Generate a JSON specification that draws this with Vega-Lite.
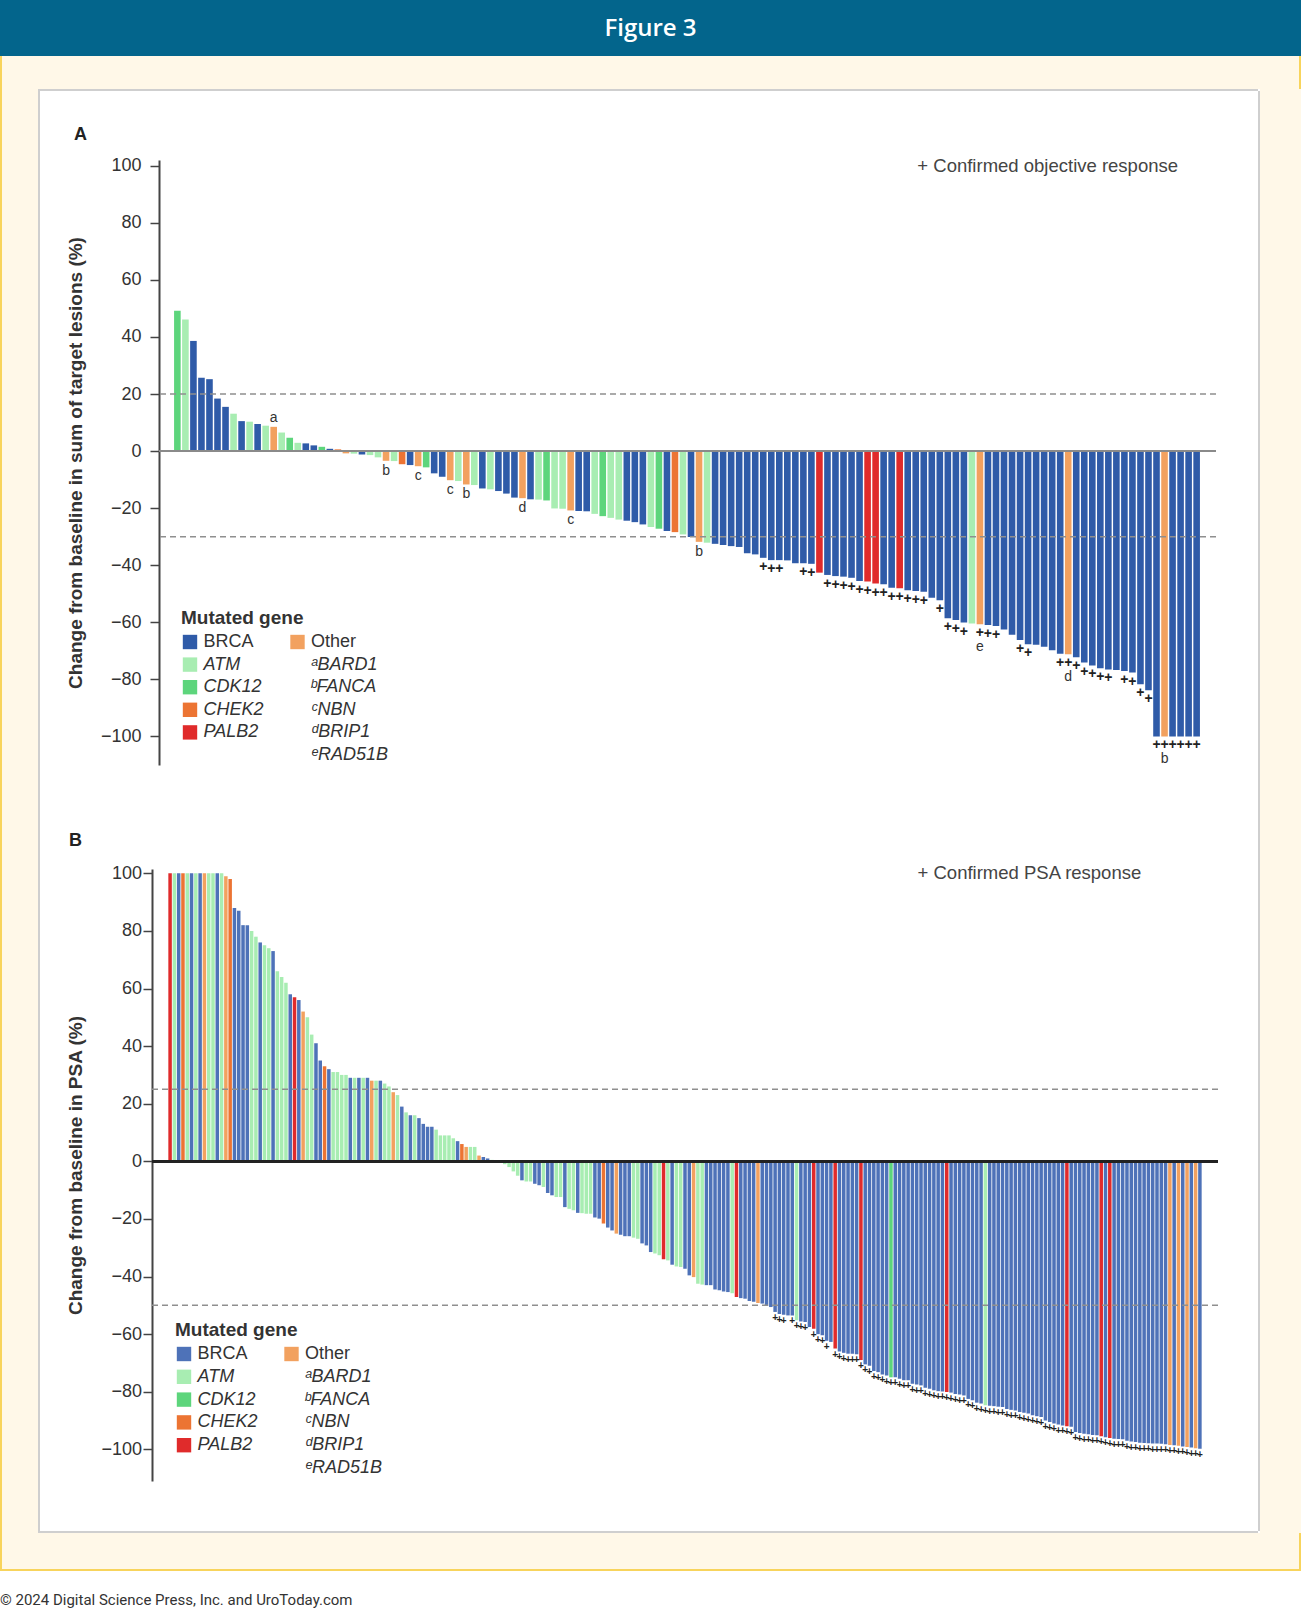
{
"$schema": "https://vega.github.io/schema/vega-lite/v6.json",
"padding": 0,
"background": "white",
"spacing": 0,
"config": {"view": {"stroke": null}, "font": "Liberation Sans", "concat": {"spacing": 0}},
"title": {"text": "© 2024 Digital Science Press, Inc. and UroToday.com", "orient": "bottom", "anchor": "start", "offset": 22, "fontSize": 15, "font": "Roboto", "fontWeight": "normal", "color": "#333"},
"datasets": {
"A": [{"i":1,"v":49.2,"g":"CDK12"},{"i":2,"v":46.1,"g":"ATM"},{"i":3,"v":38.6,"g":"BRCA"},{"i":4,"v":25.7,"g":"BRCA"},{"i":5,"v":25.2,"g":"BRCA"},{"i":6,"v":18.4,"g":"BRCA"},{"i":7,"v":15.5,"g":"BRCA"},{"i":8,"v":13.1,"g":"ATM"},{"i":9,"v":10.5,"g":"BRCA"},{"i":10,"v":10.3,"g":"ATM"},{"i":11,"v":9.5,"g":"BRCA"},{"i":12,"v":8.9,"g":"ATM"},{"i":13,"v":8.5,"g":"Other","n":"a"},{"i":14,"v":6.5,"g":"ATM"},{"i":15,"v":4.7,"g":"CDK12"},{"i":16,"v":2.9,"g":"ATM"},{"i":17,"v":2.7,"g":"BRCA"},{"i":18,"v":2.0,"g":"BRCA"},{"i":19,"v":1.5,"g":"CDK12"},{"i":20,"v":0.8,"g":"BRCA"},{"i":21,"v":0.6,"g":"CHEK2"},{"i":22,"v":-0.8,"g":"Other"},{"i":23,"v":-0.9,"g":"ATM"},{"i":24,"v":-1.2,"g":"BRCA"},{"i":25,"v":-1.4,"g":"ATM"},{"i":26,"v":-2.2,"g":"ATM"},{"i":27,"v":-3.4,"g":"Other","n":"b"},{"i":28,"v":-3.5,"g":"ATM"},{"i":29,"v":-4.6,"g":"CHEK2"},{"i":30,"v":-4.9,"g":"BRCA"},{"i":31,"v":-5.3,"g":"Other","n":"c"},{"i":32,"v":-5.7,"g":"CDK12"},{"i":33,"v":-7.8,"g":"BRCA"},{"i":34,"v":-9.0,"g":"BRCA"},{"i":35,"v":-10.2,"g":"Other","n":"c"},{"i":36,"v":-10.5,"g":"ATM"},{"i":37,"v":-11.7,"g":"Other","n":"b"},{"i":38,"v":-11.9,"g":"ATM"},{"i":39,"v":-13.1,"g":"BRCA"},{"i":40,"v":-13.4,"g":"ATM"},{"i":41,"v":-14.0,"g":"BRCA"},{"i":42,"v":-14.9,"g":"BRCA"},{"i":43,"v":-16.3,"g":"BRCA"},{"i":44,"v":-16.5,"g":"Other","n":"d"},{"i":45,"v":-16.9,"g":"BRCA"},{"i":46,"v":-17.0,"g":"ATM"},{"i":47,"v":-17.3,"g":"CDK12"},{"i":48,"v":-20.1,"g":"ATM"},{"i":49,"v":-20.2,"g":"ATM"},{"i":50,"v":-20.8,"g":"Other","n":"c"},{"i":51,"v":-21.0,"g":"BRCA"},{"i":52,"v":-21.1,"g":"BRCA"},{"i":53,"v":-22.0,"g":"ATM"},{"i":54,"v":-22.8,"g":"CDK12"},{"i":55,"v":-23.4,"g":"ATM"},{"i":56,"v":-24.0,"g":"ATM"},{"i":57,"v":-24.4,"g":"BRCA"},{"i":58,"v":-24.9,"g":"BRCA"},{"i":59,"v":-25.7,"g":"BRCA"},{"i":60,"v":-26.6,"g":"ATM"},{"i":61,"v":-27.2,"g":"CDK12"},{"i":62,"v":-28.0,"g":"BRCA"},{"i":63,"v":-28.4,"g":"CHEK2"},{"i":64,"v":-29.2,"g":"ATM"},{"i":65,"v":-30.1,"g":"BRCA"},{"i":66,"v":-31.8,"g":"Other","n":"b"},{"i":67,"v":-32.1,"g":"ATM"},{"i":68,"v":-32.5,"g":"BRCA"},{"i":69,"v":-32.9,"g":"BRCA"},{"i":70,"v":-33.3,"g":"BRCA"},{"i":71,"v":-33.6,"g":"BRCA"},{"i":72,"v":-35.8,"g":"BRCA"},{"i":73,"v":-36.2,"g":"BRCA"},{"i":74,"v":-37.4,"g":"BRCA","r":1},{"i":75,"v":-38.2,"g":"BRCA","r":1},{"i":76,"v":-38.2,"g":"BRCA","r":1},{"i":77,"v":-38.3,"g":"BRCA"},{"i":78,"v":-39.3,"g":"BRCA"},{"i":79,"v":-39.3,"g":"BRCA","r":1},{"i":80,"v":-39.5,"g":"BRCA","r":1},{"i":81,"v":-42.6,"g":"PALB2"},{"i":82,"v":-43.4,"g":"BRCA","r":1},{"i":83,"v":-43.8,"g":"BRCA","r":1},{"i":84,"v":-44.0,"g":"BRCA","r":1},{"i":85,"v":-44.4,"g":"BRCA","r":1},{"i":86,"v":-45.5,"g":"BRCA","r":1},{"i":87,"v":-45.7,"g":"PALB2","r":1},{"i":88,"v":-46.4,"g":"PALB2","r":1},{"i":89,"v":-46.7,"g":"BRCA","r":1},{"i":90,"v":-47.9,"g":"BRCA","r":1},{"i":91,"v":-48.1,"g":"PALB2","r":1},{"i":92,"v":-48.8,"g":"BRCA","r":1},{"i":93,"v":-49.0,"g":"BRCA","r":1},{"i":94,"v":-49.3,"g":"BRCA","r":1},{"i":95,"v":-51.4,"g":"BRCA"},{"i":96,"v":-52.3,"g":"BRCA","r":1},{"i":97,"v":-58.6,"g":"BRCA","r":1},{"i":98,"v":-59.2,"g":"BRCA","r":1},{"i":99,"v":-60.1,"g":"BRCA","r":1},{"i":100,"v":-60.4,"g":"ATM"},{"i":101,"v":-60.7,"g":"Other","r":1,"n":"e"},{"i":102,"v":-60.9,"g":"BRCA","r":1},{"i":103,"v":-61.3,"g":"BRCA","r":1},{"i":104,"v":-62.5,"g":"BRCA"},{"i":105,"v":-64.4,"g":"BRCA"},{"i":106,"v":-66.2,"g":"BRCA","r":1},{"i":107,"v":-67.7,"g":"BRCA","r":1},{"i":108,"v":-67.9,"g":"BRCA"},{"i":109,"v":-68.6,"g":"BRCA"},{"i":110,"v":-69.8,"g":"BRCA"},{"i":111,"v":-71.0,"g":"BRCA","r":1},{"i":112,"v":-71.2,"g":"Other","r":1,"n":"d"},{"i":113,"v":-72.2,"g":"BRCA","r":1},{"i":114,"v":-74.1,"g":"BRCA","r":1},{"i":115,"v":-75.1,"g":"BRCA","r":1},{"i":116,"v":-76.1,"g":"BRCA","r":1},{"i":117,"v":-76.5,"g":"BRCA","r":1},{"i":118,"v":-76.7,"g":"BRCA"},{"i":119,"v":-77.1,"g":"BRCA","r":1},{"i":120,"v":-77.6,"g":"BRCA","r":1},{"i":121,"v":-81.7,"g":"BRCA","r":1},{"i":122,"v":-83.8,"g":"BRCA","r":1},{"i":123,"v":-100,"g":"BRCA","r":1},{"i":124,"v":-100,"g":"Other","r":1,"n":"b"},{"i":125,"v":-100,"g":"BRCA","r":1},{"i":126,"v":-100,"g":"BRCA","r":1},{"i":127,"v":-100,"g":"BRCA","r":1},{"i":128,"v":-100,"g":"BRCA","r":1}],
"B": [{"i":1,"v":100,"g":"PALB2"},{"i":2,"v":100,"g":"ATM"},{"i":3,"v":100,"g":"BRCA"},{"i":4,"v":100,"g":"CHEK2"},{"i":5,"v":100,"g":"ATM"},{"i":6,"v":100,"g":"BRCA"},{"i":7,"v":100,"g":"ATM"},{"i":8,"v":100,"g":"BRCA"},{"i":9,"v":100,"g":"Other"},{"i":10,"v":100,"g":"ATM"},{"i":11,"v":100,"g":"ATM"},{"i":12,"v":100,"g":"BRCA"},{"i":13,"v":100,"g":"ATM"},{"i":14,"v":99,"g":"Other"},{"i":15,"v":98,"g":"CHEK2"},{"i":16,"v":88,"g":"BRCA"},{"i":17,"v":87,"g":"BRCA"},{"i":18,"v":82,"g":"BRCA"},{"i":19,"v":82,"g":"BRCA"},{"i":20,"v":80,"g":"ATM"},{"i":21,"v":78,"g":"ATM"},{"i":22,"v":76,"g":"BRCA"},{"i":23,"v":75,"g":"ATM"},{"i":24,"v":74,"g":"ATM"},{"i":25,"v":73,"g":"BRCA"},{"i":26,"v":66,"g":"ATM"},{"i":27,"v":64,"g":"ATM"},{"i":28,"v":62,"g":"ATM"},{"i":29,"v":58,"g":"BRCA"},{"i":30,"v":57,"g":"PALB2"},{"i":31,"v":56,"g":"BRCA"},{"i":32,"v":52,"g":"Other"},{"i":33,"v":50,"g":"ATM"},{"i":34,"v":44,"g":"ATM"},{"i":35,"v":41,"g":"BRCA"},{"i":36,"v":35,"g":"BRCA"},{"i":37,"v":33,"g":"CHEK2"},{"i":38,"v":32,"g":"BRCA"},{"i":39,"v":31,"g":"ATM"},{"i":40,"v":31,"g":"ATM"},{"i":41,"v":30,"g":"ATM"},{"i":42,"v":30,"g":"ATM"},{"i":43,"v":29,"g":"BRCA"},{"i":44,"v":29,"g":"ATM"},{"i":45,"v":29,"g":"BRCA"},{"i":46,"v":29,"g":"ATM"},{"i":47,"v":29,"g":"BRCA"},{"i":48,"v":28,"g":"Other"},{"i":49,"v":28,"g":"ATM"},{"i":50,"v":28,"g":"BRCA"},{"i":51,"v":27,"g":"ATM"},{"i":52,"v":26,"g":"ATM"},{"i":53,"v":24,"g":"Other"},{"i":54,"v":23,"g":"ATM"},{"i":55,"v":19,"g":"BRCA"},{"i":56,"v":17,"g":"ATM"},{"i":57,"v":16,"g":"BRCA"},{"i":58,"v":16,"g":"ATM"},{"i":59,"v":15,"g":"BRCA"},{"i":60,"v":13,"g":"BRCA"},{"i":61,"v":12,"g":"BRCA"},{"i":62,"v":12,"g":"BRCA"},{"i":63,"v":11,"g":"ATM"},{"i":64,"v":9,"g":"ATM"},{"i":65,"v":9,"g":"ATM"},{"i":66,"v":9,"g":"ATM"},{"i":67,"v":8,"g":"ATM"},{"i":68,"v":7,"g":"BRCA"},{"i":69,"v":6,"g":"CHEK2"},{"i":70,"v":5,"g":"Other"},{"i":71,"v":5,"g":"ATM"},{"i":72,"v":5,"g":"ATM"},{"i":73,"v":2,"g":"Other"},{"i":74,"v":1.5,"g":"BRCA"},{"i":75,"v":1,"g":"BRCA"},{"i":76,"v":0.5,"g":"ATM"},{"i":77,"v":0.3,"g":"ATM"},{"i":78,"v":0.2,"g":"BRCA"},{"i":79,"v":-1,"g":"ATM"},{"i":80,"v":-2,"g":"ATM"},{"i":81,"v":-3.5,"g":"ATM"},{"i":82,"v":-5,"g":"ATM"},{"i":83,"v":-6.6,"g":"BRCA"},{"i":84,"v":-7,"g":"ATM"},{"i":85,"v":-7,"g":"ATM"},{"i":86,"v":-7.8,"g":"BRCA"},{"i":87,"v":-8.3,"g":"BRCA"},{"i":88,"v":-8.9,"g":"ATM"},{"i":89,"v":-11,"g":"BRCA"},{"i":90,"v":-11.8,"g":"BRCA"},{"i":91,"v":-12.4,"g":"ATM"},{"i":92,"v":-12.4,"g":"ATM"},{"i":93,"v":-15.9,"g":"BRCA"},{"i":94,"v":-16.5,"g":"ATM"},{"i":95,"v":-17,"g":"ATM"},{"i":96,"v":-17.9,"g":"BRCA"},{"i":97,"v":-18,"g":"ATM"},{"i":98,"v":-18.2,"g":"ATM"},{"i":99,"v":-18.2,"g":"ATM"},{"i":100,"v":-19.5,"g":"BRCA"},{"i":101,"v":-19.9,"g":"BRCA"},{"i":102,"v":-21.6,"g":"CHEK2"},{"i":103,"v":-23,"g":"BRCA"},{"i":104,"v":-24,"g":"BRCA"},{"i":105,"v":-25.1,"g":"Other"},{"i":106,"v":-25.5,"g":"BRCA"},{"i":107,"v":-26,"g":"BRCA"},{"i":108,"v":-26,"g":"BRCA"},{"i":109,"v":-26.5,"g":"ATM"},{"i":110,"v":-26.9,"g":"ATM"},{"i":111,"v":-28.5,"g":"BRCA"},{"i":112,"v":-29.2,"g":"BRCA"},{"i":113,"v":-31.5,"g":"BRCA"},{"i":114,"v":-32,"g":"ATM"},{"i":115,"v":-32.6,"g":"ATM"},{"i":116,"v":-34,"g":"PALB2"},{"i":117,"v":-34.4,"g":"ATM"},{"i":118,"v":-35.9,"g":"BRCA"},{"i":119,"v":-36.5,"g":"ATM"},{"i":120,"v":-36.7,"g":"ATM"},{"i":121,"v":-37.3,"g":"BRCA"},{"i":122,"v":-39.6,"g":"BRCA"},{"i":123,"v":-40.2,"g":"Other"},{"i":124,"v":-42.5,"g":"ATM"},{"i":125,"v":-42.8,"g":"ATM"},{"i":126,"v":-43,"g":"BRCA"},{"i":127,"v":-43,"g":"BRCA"},{"i":128,"v":-44.5,"g":"BRCA"},{"i":129,"v":-44.8,"g":"BRCA"},{"i":130,"v":-45.2,"g":"BRCA"},{"i":131,"v":-45.4,"g":"BRCA"},{"i":132,"v":-45.8,"g":"ATM"},{"i":133,"v":-47.1,"g":"PALB2"},{"i":134,"v":-47.5,"g":"BRCA"},{"i":135,"v":-47.7,"g":"BRCA"},{"i":136,"v":-48.5,"g":"BRCA"},{"i":137,"v":-48.8,"g":"BRCA"},{"i":138,"v":-49.2,"g":"Other"},{"i":139,"v":-49.4,"g":"BRCA"},{"i":140,"v":-50.2,"g":"BRCA"},{"i":141,"v":-50.6,"g":"BRCA"},{"i":142,"v":-52.3,"g":"BRCA","r":1},{"i":143,"v":-53,"g":"BRCA","r":1},{"i":144,"v":-53.3,"g":"BRCA","r":1},{"i":145,"v":-53.5,"g":"BRCA"},{"i":146,"v":-53.5,"g":"BRCA","r":1},{"i":147,"v":-55.2,"g":"ATM","r":1},{"i":148,"v":-55.6,"g":"BRCA","r":1},{"i":149,"v":-55.8,"g":"BRCA","r":1},{"i":150,"v":-57.5,"g":"BRCA"},{"i":151,"v":-58.1,"g":"PALB2","r":1},{"i":152,"v":-60,"g":"BRCA","r":1},{"i":153,"v":-60.4,"g":"BRCA","r":1},{"i":154,"v":-62.3,"g":"BRCA","r":1},{"i":155,"v":-62.7,"g":"BRCA"},{"i":156,"v":-65,"g":"PALB2","r":1},{"i":157,"v":-66,"g":"BRCA","r":1},{"i":158,"v":-66.5,"g":"BRCA","r":1},{"i":159,"v":-66.8,"g":"BRCA","r":1},{"i":160,"v":-66.8,"g":"BRCA","r":1},{"i":161,"v":-67,"g":"BRCA","r":1},{"i":162,"v":-69,"g":"PALB2","r":1},{"i":163,"v":-70.5,"g":"BRCA","r":1},{"i":164,"v":-71,"g":"BRCA","r":1},{"i":165,"v":-72.8,"g":"BRCA","r":1},{"i":166,"v":-73.2,"g":"BRCA","r":1},{"i":167,"v":-74,"g":"BRCA","r":1},{"i":168,"v":-74.4,"g":"BRCA","r":1},{"i":169,"v":-75,"g":"CDK12","r":1},{"i":170,"v":-75,"g":"BRCA","r":1},{"i":171,"v":-75.5,"g":"BRCA","r":1},{"i":172,"v":-76,"g":"BRCA","r":1},{"i":173,"v":-76,"g":"BRCA","r":1},{"i":174,"v":-77.2,"g":"BRCA","r":1},{"i":175,"v":-77.5,"g":"BRCA","r":1},{"i":176,"v":-77.8,"g":"BRCA","r":1},{"i":177,"v":-78.6,"g":"BRCA","r":1},{"i":178,"v":-79,"g":"BRCA","r":1},{"i":179,"v":-79.5,"g":"BRCA","r":1},{"i":180,"v":-79.8,"g":"BRCA","r":1},{"i":181,"v":-79.9,"g":"BRCA","r":1},{"i":182,"v":-80.1,"g":"PALB2","r":1},{"i":183,"v":-80.3,"g":"BRCA","r":1},{"i":184,"v":-80.8,"g":"BRCA","r":1},{"i":185,"v":-81,"g":"BRCA","r":1},{"i":186,"v":-81.3,"g":"BRCA","r":1},{"i":187,"v":-82.5,"g":"BRCA","r":1},{"i":188,"v":-83,"g":"BRCA","r":1},{"i":189,"v":-83.8,"g":"BRCA","r":1},{"i":190,"v":-84.1,"g":"BRCA","r":1},{"i":191,"v":-84.7,"g":"ATM","r":1},{"i":192,"v":-84.9,"g":"BRCA","r":1},{"i":193,"v":-85,"g":"BRCA","r":1},{"i":194,"v":-85.2,"g":"BRCA","r":1},{"i":195,"v":-85.3,"g":"BRCA","r":1},{"i":196,"v":-86,"g":"BRCA","r":1},{"i":197,"v":-86.3,"g":"BRCA","r":1},{"i":198,"v":-86.5,"g":"BRCA","r":1},{"i":199,"v":-87,"g":"BRCA","r":1},{"i":200,"v":-87.3,"g":"BRCA","r":1},{"i":201,"v":-87.6,"g":"BRCA","r":1},{"i":202,"v":-88.2,"g":"BRCA","r":1},{"i":203,"v":-88.5,"g":"BRCA","r":1},{"i":204,"v":-88.8,"g":"BRCA","r":1},{"i":205,"v":-90,"g":"BRCA","r":1},{"i":206,"v":-90.5,"g":"BRCA","r":1},{"i":207,"v":-91,"g":"BRCA","r":1},{"i":208,"v":-91.4,"g":"BRCA","r":1},{"i":209,"v":-91.7,"g":"BRCA","r":1},{"i":210,"v":-92,"g":"PALB2","r":1},{"i":211,"v":-92.2,"g":"BRCA","r":1},{"i":212,"v":-94,"g":"BRCA","r":1},{"i":213,"v":-94.3,"g":"BRCA","r":1},{"i":214,"v":-94.6,"g":"BRCA","r":1},{"i":215,"v":-94.8,"g":"BRCA","r":1},{"i":216,"v":-95,"g":"BRCA","r":1},{"i":217,"v":-95.1,"g":"BRCA","r":1},{"i":218,"v":-95.5,"g":"PALB2","r":1},{"i":219,"v":-95.8,"g":"BRCA","r":1},{"i":220,"v":-96.1,"g":"PALB2","r":1},{"i":221,"v":-96.3,"g":"BRCA","r":1},{"i":222,"v":-96.4,"g":"BRCA","r":1},{"i":223,"v":-96.5,"g":"BRCA","r":1},{"i":224,"v":-97,"g":"BRCA","r":1},{"i":225,"v":-97.3,"g":"BRCA","r":1},{"i":226,"v":-97.5,"g":"BRCA","r":1},{"i":227,"v":-97.7,"g":"BRCA","r":1},{"i":228,"v":-97.8,"g":"BRCA","r":1},{"i":229,"v":-97.9,"g":"BRCA","r":1},{"i":230,"v":-98,"g":"BRCA","r":1},{"i":231,"v":-98,"g":"BRCA","r":1},{"i":232,"v":-98.1,"g":"BRCA","r":1},{"i":233,"v":-98.2,"g":"BRCA","r":1},{"i":234,"v":-98.5,"g":"Other","r":1},{"i":235,"v":-98.6,"g":"BRCA","r":1},{"i":236,"v":-98.8,"g":"Other","r":1},{"i":237,"v":-99,"g":"BRCA","r":1},{"i":238,"v":-99.2,"g":"Other","r":1},{"i":239,"v":-99.4,"g":"BRCA","r":1},{"i":240,"v":-99.6,"g":"Other","r":1},{"i":241,"v":-99.8,"g":"BRCA","r":1}]
},
"vconcat": [
 {"width": 1301, "height": 56, "view": {"fill": "#03658C"}, "data": {"values": [{"t": "Figure 3"}]}, "mark": {"type": "text", "color": "white", "fontSize": 24, "font": "Open Sans", "fontWeight": 600, "baseline": "middle", "dy": 1}, "encoding": {"text": {"field": "t"}}},
 {"hconcat": [
   {"width": 2, "height": 33, "view": {"fill": "#F8D45C"}, "data": {"values": []}, "mark": "rect"},
   {"width": 1297, "height": 33, "view": {"fill": "#FFF8E8"}, "data": {"values": []}, "mark": "rect"},
   {"width": 2, "height": 33, "view": {"fill": "#F8D45C"}, "data": {"values": []}, "mark": "rect"}
 ]},
 {"hconcat": [
   {"width": 2, "height": 1444, "view": {"fill": "#F8D45C"}, "data": {"values": []}, "mark": "rect"},
   {"width": 36, "height": 1444, "view": {"fill": "#FFF8E8"}, "data": {"values": []}, "mark": "rect"},
   {"vconcat": [
     {"width": 1220, "height": 2, "view": {"fill": "#CFCFCF"}, "data": {"values": []}, "mark": "rect"},
     {"hconcat": [
       {"width": 2, "height": 1440, "view": {"fill": "#CFCFCF"}, "data": {"values": []}, "mark": "rect"},
       {"width": 25, "height": 1, "data": {"values": []}, "mark": "rect"},
       {"vconcat": [
         {"width": 1, "height": 1, "data": {"values": []}, "mark": "rect"},
         {"vconcat": [
          {"hconcat": [
           {"width": 1, "height": 1, "data": {"values": []}, "mark": "rect"},
           {"width": 1057, "height": 605,
            "title": {"text": "A", "anchor": "start", "frame": "bounds", "dx": 8, "offset": -1, "fontSize": 18, "fontWeight": "bold", "font": "Liberation Sans", "color": "#222", "baseline": "alphabetic"},
            "data": {"name": "A"},
            "layer": [
              {"mark": {"type": "bar", "width": 6.6},
               "encoding": {
                 "x": {"field": "i", "type": "quantitative", "scale": {"domain": [-0.666, 129.79], "nice": false, "zero": false}, "axis": null},
                 "y": {"field": "v", "type": "quantitative", "scale": {"domain": [-110, 102], "nice": false},
                       "axis": {"values": [-100,-80,-60,-40,-20,0,20,40,60,80,100], "title": "Change from baseline in sum of target lesions (%)", "titleFontSize": 19, "titleFontWeight": "bold", "titleColor": "#333", "titleFont": "Liberation Sans", "titlePadding": 16, "labelFontSize": 18, "labelFont": "Liberation Sans", "labelColor": "#333", "labelPadding": 9, "tickSize": 9, "tickWidth": 1.5, "tickColor": "#444", "domainColor": "#444", "domainWidth": 2, "grid": false, "minExtent": 58, "maxExtent": 58}},
                 "color": {"field": "g", "type": "nominal",
                   "scale": {"domain": ["BRCA","ATM","CDK12","CHEK2","PALB2"," ","Other","ᵃBARD1","ᵇFANCA","ᶜNBN","ᵈBRIP1","ᵉRAD51B"], "range": ["#2F5BA8","#A8EDB2","#5DD57C","#EC7433","#E02B2B","rgba(0,0,0,0)","#F2A15F","rgba(0,0,0,0)","rgba(0,0,0,0)","rgba(0,0,0,0)","rgba(0,0,0,0)","rgba(0,0,0,0)"]},
                   "legend": {"title": "Mutated gene", "orient": "none", "legendX": 116, "legendY": 449, "columns": 2, "columnPadding": 24.5, "rowPadding": 4.6, "padding": 0, "symbolType": "square", "symbolSize": 207, "symbolStrokeWidth": 0, "labelOffset": 4.5, "labelFontSize": 18, "labelFont": "Liberation Sans", "labelColor": "#333", "titleFontSize": 19, "titleFont": "Liberation Sans", "titleFontWeight": "bold", "titleColor": "#333", "titlePadding": 5,
                     "encode": {"labels": {"update": {"fontStyle": {"signal": "indexof(['BRCA','Other'], datum.label) >= 0 ? 'normal' : 'italic'"}}}}}}}},
              {"mark": {"type": "rule", "color": "#8a8a8a", "strokeWidth": 2}, "encoding": {"y": {"datum": 0}}},
              {"data": {"values": [{"t": 20}, {"t": -30}]}, "mark": {"type": "rule", "color": "#8f8f8f", "strokeWidth": 1.5, "strokeDash": [6, 4]}, "encoding": {"y": {"field": "t", "type": "quantitative"}}},
              {"transform": [{"filter": "datum.r == 1"}], "mark": {"type": "text", "text": "+", "dy": 9, "baseline": "middle", "fontSize": 14, "fontWeight": "bold", "color": "#222"}, "encoding": {"x": {"field": "i", "type": "quantitative"}, "y": {"field": "v", "type": "quantitative"}}},
              {"transform": [{"filter": "datum.n && datum.r == 1"}], "mark": {"type": "text", "dy": 23, "baseline": "middle", "fontSize": 14, "color": "#333"}, "encoding": {"x": {"field": "i", "type": "quantitative"}, "y": {"field": "v", "type": "quantitative"}, "text": {"field": "n"}}},
              {"transform": [{"filter": "datum.n && datum.r != 1 && datum.v < 0"}], "mark": {"type": "text", "dy": 10, "baseline": "middle", "fontSize": 14, "color": "#333"}, "encoding": {"x": {"field": "i", "type": "quantitative"}, "y": {"field": "v", "type": "quantitative"}, "text": {"field": "n"}}},
              {"transform": [{"filter": "datum.n && datum.v > 0"}], "mark": {"type": "text", "dy": -9, "baseline": "middle", "fontSize": 14, "color": "#333"}, "encoding": {"x": {"field": "i", "type": "quantitative"}, "y": {"field": "v", "type": "quantitative"}, "text": {"field": "n"}}},
              {"data": {"values": [{"label": "+ Confirmed objective response"}]}, "mark": {"type": "text", "align": "left", "baseline": "middle", "fontSize": 18.5, "color": "#444"}, "encoding": {"x": {"datum": 93.2}, "y": {"datum": 100}, "text": {"field": "label"}}}
            ]}]},
          {"hconcat": [
           {"width": 1, "height": 1, "data": {"values": []}, "mark": "rect"},
           {"width": 1066, "height": 612,
            "title": {"text": "B", "anchor": "start", "frame": "bounds", "dx": 3, "offset": 0, "fontSize": 18, "fontWeight": "bold", "font": "Liberation Sans", "color": "#222", "baseline": "alphabetic"},
            "data": {"name": "B"},
            "layer": [
              {"mark": {"type": "bar", "width": 3.5},
               "encoding": {
                 "x": {"field": "i", "type": "quantitative", "scale": {"domain": [-2.05, 244.05], "nice": false, "zero": false}, "axis": null},
                 "y": {"field": "v", "type": "quantitative", "scale": {"domain": [-111, 101.5], "nice": false},
                       "axis": {"values": [-100,-80,-60,-40,-20,0,20,40,60,80,100], "title": "Change from baseline in PSA (%)", "titleY": 296, "titleFontSize": 19, "titleFontWeight": "bold", "titleColor": "#333", "titleFont": "Liberation Sans", "titlePadding": 16, "labelFontSize": 18, "labelFont": "Liberation Sans", "labelColor": "#333", "labelPadding": 1.5, "tickSize": 9, "tickWidth": 1.5, "tickColor": "#444", "domainColor": "#444", "domainWidth": 2, "grid": false, "minExtent": 51, "maxExtent": 51}},
                 "color": {"field": "g", "type": "nominal",
                   "scale": {"domain": ["BRCA","ATM","CDK12","CHEK2","PALB2"," ","Other","ᵃBARD1","ᵇFANCA","ᶜNBN","ᵈBRIP1","ᵉRAD51B"], "range": ["#4E72B8","#A8EDB2","#5DD57C","#EC7433","#E02B2B","rgba(0,0,0,0)","#F2A15F","rgba(0,0,0,0)","rgba(0,0,0,0)","rgba(0,0,0,0)","rgba(0,0,0,0)","rgba(0,0,0,0)"]},
                   "legend": {"title": "Mutated gene", "orient": "none", "legendX": 110, "legendY": 452, "columns": 2, "columnPadding": 24.5, "rowPadding": 4.8, "padding": 0, "symbolType": "square", "symbolSize": 207, "symbolStrokeWidth": 0, "labelOffset": 4.5, "labelFontSize": 18, "labelFont": "Liberation Sans", "labelColor": "#333", "titleFontSize": 19, "titleFont": "Liberation Sans", "titleFontWeight": "bold", "titleColor": "#333", "titlePadding": 5,
                     "encode": {"labels": {"update": {"fontStyle": {"signal": "indexof(['BRCA','Other'], datum.label) >= 0 ? 'normal' : 'italic'"}}}}}}}},
              {"mark": {"type": "rule", "color": "#222", "strokeWidth": 2.2}, "encoding": {"y": {"datum": 0}}},
              {"data": {"values": [{"t": 25}, {"t": -50}]}, "mark": {"type": "rule", "color": "#8f8f8f", "strokeWidth": 1.5, "strokeDash": [6, 4]}, "encoding": {"y": {"field": "t", "type": "quantitative"}}},
              {"transform": [{"filter": "datum.r == 1"}], "mark": {"type": "text", "text": "+", "dy": 6, "baseline": "middle", "fontSize": 10, "fontWeight": "bold", "color": "#222"}, "encoding": {"x": {"field": "i", "type": "quantitative"}, "y": {"field": "v", "type": "quantitative"}}},
              {"data": {"values": [{"label": "+ Confirmed PSA response"}]}, "mark": {"type": "text", "align": "left", "baseline": "middle", "fontSize": 18.5, "color": "#444"}, "encoding": {"x": {"datum": 175.2}, "y": {"datum": 100}, "text": {"field": "label"}}}
            ]}]}
         ], "spacing": 65, "resolve": {"scale": {"color": "independent", "x": "independent", "y": "independent"}, "legend": {"color": "independent"}}}
       ], "spacing": 33},
       {"width": 38, "height": 1, "data": {"values": []}, "mark": "rect"},
       {"width": 2, "height": 1440, "view": {"fill": "#CFCFCF"}, "data": {"values": []}, "mark": "rect"}
     ]},
     {"width": 1220, "height": 2, "view": {"fill": "#CFCFCF"}, "data": {"values": []}, "mark": "rect"}
   ]},
   {"width": 41, "height": 1444, "view": {"fill": "#FFF8E8"}, "data": {"values": []}, "mark": "rect"},
   {"width": 2, "height": 1444, "view": {"fill": "#F8D45C"}, "data": {"values": []}, "mark": "rect"}
 ]},
 {"hconcat": [
   {"width": 2, "height": 36, "view": {"fill": "#F8D45C"}, "data": {"values": []}, "mark": "rect"},
   {"width": 1297, "height": 36, "view": {"fill": "#FFF8E8"}, "data": {"values": []}, "mark": "rect"},
   {"width": 2, "height": 36, "view": {"fill": "#F8D45C"}, "data": {"values": []}, "mark": "rect"}
 ]},
 {"width": 1301, "height": 2, "view": {"fill": "#F8D45C"}, "data": {"values": []}, "mark": "rect"}
]
}
